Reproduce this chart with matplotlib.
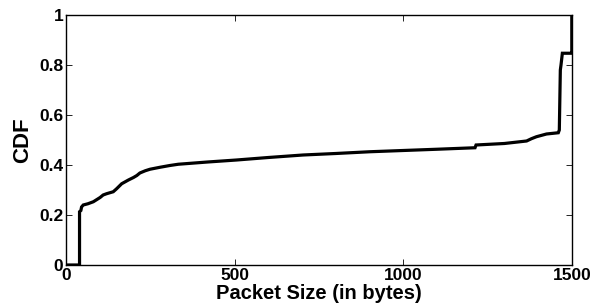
import matplotlib
matplotlib.use("Agg")
import matplotlib.pyplot as plt

# CDF curve (packet size in bytes, CDF value);
# repeated x values mark the vertical jumps of the distribution
packet_size = [0, 40, 40, 44, 46, 51, 65, 81, 101, 110, 120, 140, 150, 165, 185, 200, 210,
               219, 235, 249, 279, 308, 333, 420, 506, 600, 703, 800, 901, 1000, 1100, 1213,
               1216, 1300, 1366, 1380, 1395, 1425, 1460, 1463, 1466, 1468, 1472, 1499,
               1500, 1500]
cdf_values = [0.0, 0.0, 0.213, 0.218, 0.232, 0.240, 0.245, 0.253, 0.270, 0.280, 0.285, 0.293,
              0.305, 0.325, 0.340, 0.350, 0.358, 0.368, 0.377, 0.383, 0.391, 0.398, 0.403,
              0.412, 0.420, 0.430, 0.440, 0.446, 0.453, 0.458, 0.463, 0.469, 0.480, 0.486,
              0.496, 0.505, 0.513, 0.524, 0.529, 0.540, 0.780, 0.800, 0.847, 0.847, 0.847, 1.0]

x_ticks = [0, 500, 1000, 1500]
x_tick_labels = ["0", "500", "1000", "1500"]
y_ticks = [0, 0.2, 0.4, 0.6, 0.8, 1.0]
y_tick_labels = ["0", "0.2", "0.4", "0.6", "0.8", "1"]

plt.rcParams['font.family'] = ['Liberation Sans', 'DejaVu Sans']
plt.rcParams['font.weight'] = 'bold'

fig = plt.figure(figsize=(5.95, 3.06), dpi=100)
ax = fig.add_axes([0.111, 0.134, 0.850, 0.817])

ax.plot(packet_size, cdf_values, color='black', linewidth=2.3, solid_joinstyle='miter')

ax.set_xlim(0, 1500)
ax.set_ylim(0, 1)
ax.set_xticks(x_ticks)
ax.set_xticklabels(x_tick_labels, fontsize=12.5, fontweight='bold')
ax.set_yticks(y_ticks)
ax.set_yticklabels(y_tick_labels, fontsize=12.5, fontweight='bold')
ax.tick_params(direction='in', top=True, right=True, length=4, width=0.6, pad=2)
ax.tick_params(axis='x', pad=2)
for s in ax.spines.values():
    s.set_linewidth(1.0)

ax.set_xlabel("Packet Size (in bytes)", fontsize=14.5, fontweight='bold')
ax.xaxis.set_label_coords(0.5, -0.078, transform=ax.transAxes)
ax.xaxis.label.set_va('top')
ax.set_ylabel("CDF", fontsize=16, fontweight='bold', labelpad=4)

fig.savefig("out.png", dpi=100)
